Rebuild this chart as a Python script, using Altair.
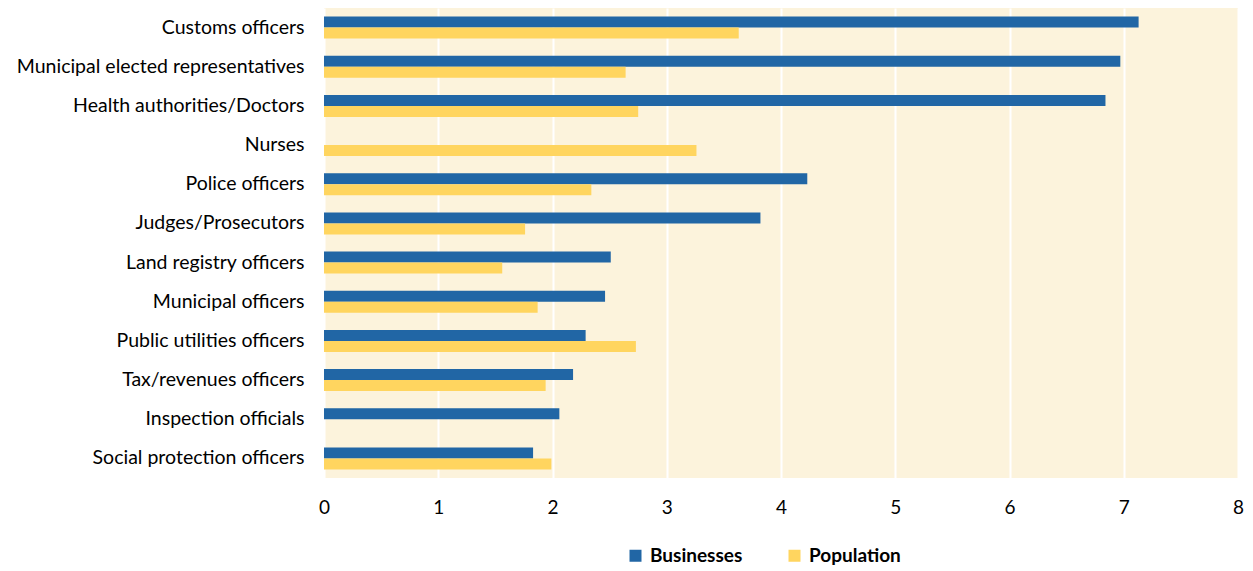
import altair as alt
import pandas as pd

categories = [
    "Customs officers",
    "Municipal elected representatives",
    "Health authorities/Doctors",
    "Nurses",
    "Police officers",
    "Judges/Prosecutors",
    "Land registry officers",
    "Municipal officers",
    "Public utilities officers",
    "Tax/revenues officers",
    "Inspection officials",
    "Social protection officers",
]
businesses = [7.13, 6.97, 6.84, None, 4.23, 3.82, 2.51, 2.46, 2.29, 2.18, 2.06, 1.83]
population = [3.63, 2.64, 2.75, 3.26, 2.34, 1.76, 1.56, 1.87, 2.73, 1.94, None, 1.99]
series = ["Businesses", "Population"]
colors = ["#2166A5", "#FFD55F"]

rows = []
for c, b, p in zip(categories, businesses, population):
    if b is not None:
        rows.append({"category": c, "series": "Businesses", "value": b})
    if p is not None:
        rows.append({"category": c, "series": "Population", "value": p})
df = pd.DataFrame(rows)

FONT = "Lato"

chart = (
    alt.Chart(df)
    .mark_bar()
    .encode(
        x=alt.X(
            "value:Q",
            scale=alt.Scale(domain=[0, 8], nice=False),
            axis=alt.Axis(
                title=None,
                values=list(range(0, 9)),
                grid=True,
                gridColor="white",
                gridWidth=2,
                domain=False,
                ticks=False,
                labelFlush=False,
                labelFont=FONT,
                labelFontSize=19,
                labelColor="black",
                labelPadding=20,
            ),
        ),
        y=alt.Y(
            "category:N",
            sort=categories,
            scale=alt.Scale(paddingInner=0.44, paddingOuter=0.22),
            axis=alt.Axis(
                title=None,
                domain=False,
                ticks=False,
                labelFont=FONT,
                labelFontSize=19.5,
                labelColor="black",
                labelPadding=20,
                labelLimit=400,
            ),
        ),
        yOffset=alt.YOffset("series:N", sort=series),
        color=alt.Color(
            "series:N",
            sort=series,
            scale=alt.Scale(domain=series, range=colors),
            legend=alt.Legend(
                title=None,
                orient="none",
                direction="horizontal",
                legendX=302,
                legendY=538,
                symbolType="square",
                symbolSize=144,
                symbolStrokeWidth=0,
                labelFont=FONT,
                labelFontSize=19,
                labelFontWeight="bold",
                labelColor="black",
                columnPadding=42,
                labelOffset=5,
            ),
        ),
    )
    .properties(
        width=914,
        height=470,
        background="white",
        padding={"left": 316, "top": 0, "right": 7, "bottom": 92},
        autosize=alt.AutoSizeParams(type="none"),
    )
    .configure_view(fill="#FCF3DC", strokeWidth=0)
)

chart.save("out.html", embed_options={"renderer": "svg", "actions": False})
